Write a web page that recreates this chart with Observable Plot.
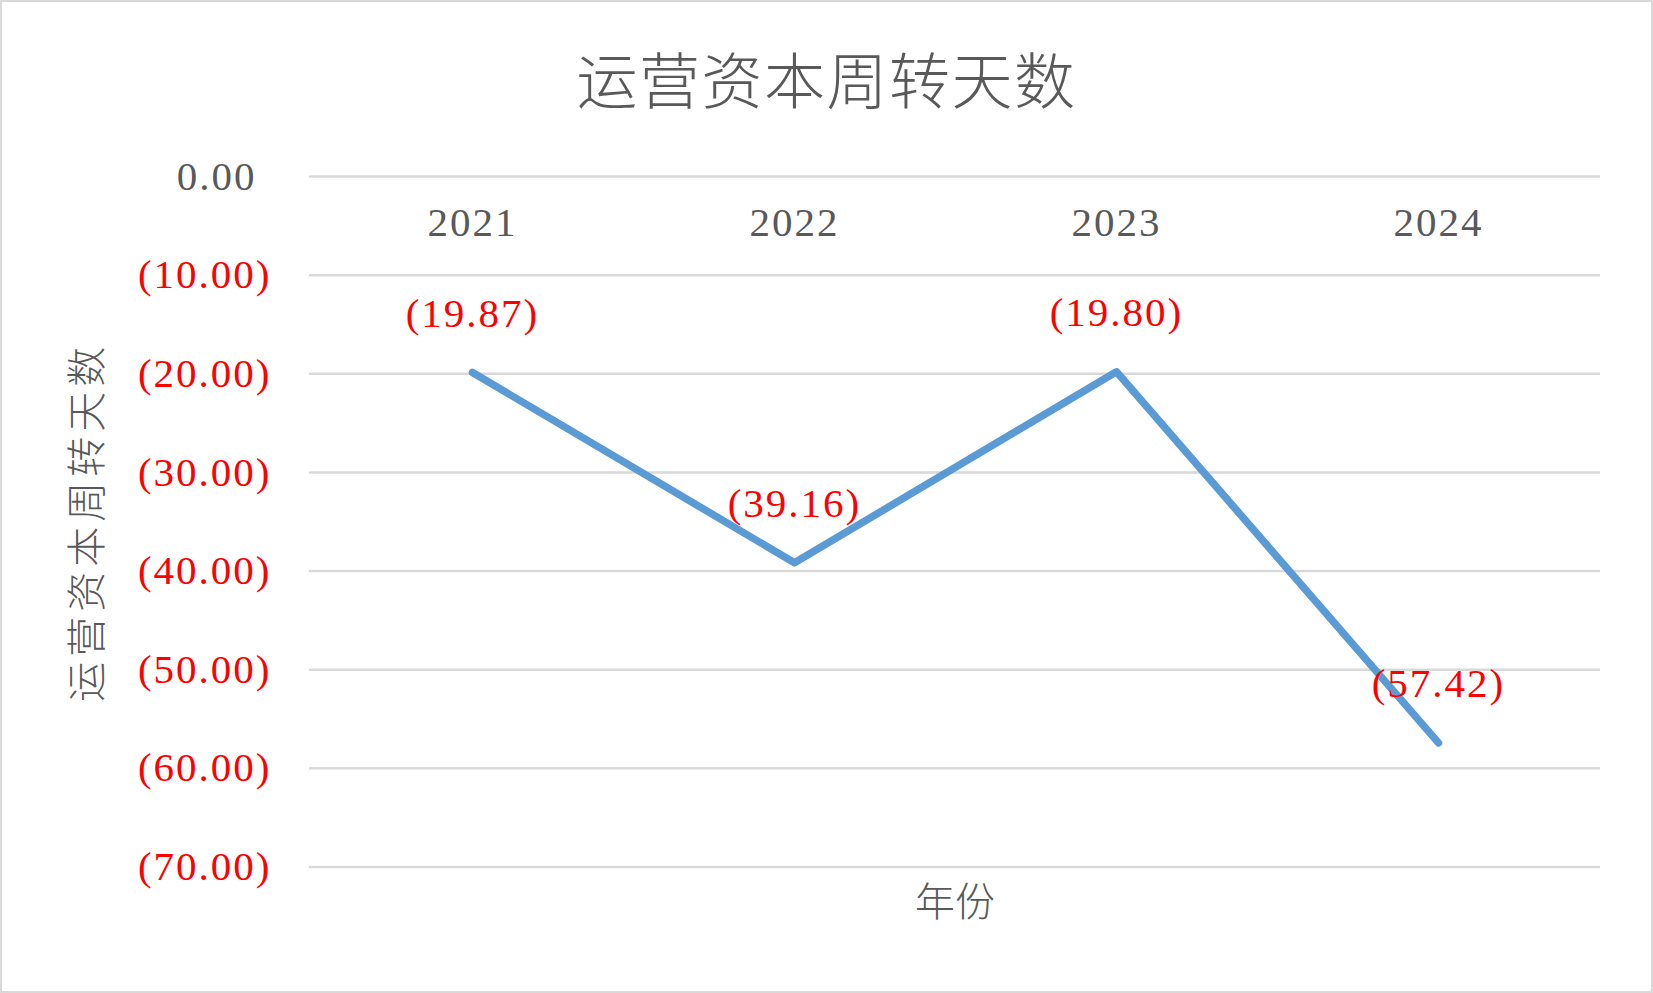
<!DOCTYPE html>
<html>
<head>
<meta charset="utf-8">
<script src="https://cdn.jsdelivr.net/npm/d3@7"></script>
<script src="https://cdn.jsdelivr.net/npm/@observablehq/plot@0.6"></script>
<style>
  html, body { margin: 0; padding: 0; background: #ffffff; }
  #wrap { position: relative; width: 1653px; height: 993px; background: #ffffff; overflow: hidden; }
  #frame { position: absolute; left: 0; top: 0; width: 1653px; height: 993px; box-sizing: border-box; border: 2px solid #d9d9d9; pointer-events: none; }
  #title { position: absolute; left: 0; top: 40px; width: 1653px; height: 76px; line-height: 76px; text-align: center;
           font-family: "Noto Sans CJK SC", sans-serif; font-weight: 300; font-size: 61px; color: #595959; letter-spacing: 1.5px; }
  #plot { position: absolute; left: 0; top: 140px; }
</style>
</head>
<body>
<div id="wrap">
  <div id="title">运营资本周转天数</div>
  <div id="plot"></div>
  <div id="frame"></div>
</div>
<script>
const years = ["2021", "2022", "2023", "2024"];
const values = [-19.87, -39.16, -19.80, -57.42];
const yTicks = [0, -10, -20, -30, -40, -50, -60, -70];
const xTitle = "年份";
const yTitle = "运营资本周转天数";

const fmt = v => v < 0 ? `(${Math.abs(v).toFixed(2)})` : v.toFixed(2);
const data = years.map((year, i) => ({ year, value: values[i] }));
const numFont = "Liberation Serif, serif";
const cjkFont = "Noto Sans CJK SC, sans-serif";

const chart = Plot.plot({
  width: 1653,
  height: 853,
  marginLeft: 309,
  marginRight: 53,
  marginTop: 36,
  marginBottom: 126.5,
  style: { background: "transparent", overflow: "visible" },
  x: { type: "point", domain: years, padding: 0.5, axis: null },
  y: { domain: [-70, 0], axis: null },
  marks: [
    Plot.ruleY(yTicks, { y: d => d, stroke: "#d9d9d9", strokeWidth: 2.5 }),
    Plot.text(yTicks.filter(d => d < 0), {
      y: d => d, text: d => fmt(d), frameAnchor: "left", textAnchor: "end", dx: -38,
      fill: "#ff0000", fontSize: 41, fontFamily: numFont
    }),
    Plot.text(yTicks.filter(d => d >= 0), {
      y: d => d, text: d => fmt(d), frameAnchor: "left", textAnchor: "end", dx: -53,
      fill: "#595959", fontSize: 41, fontFamily: numFont
    }),
    Plot.text(years, {
      x: d => d, text: d => d, frameAnchor: "top", dy: 46, lineAnchor: "middle",
      fill: "#595959", fontSize: 41, fontFamily: numFont
    }),
    Plot.line(data, {
      x: "year", y: "value", stroke: "#5B9BD5", strokeWidth: 7.5,
      strokeLinecap: "round", strokeLinejoin: "round"
    }),
    Plot.text(data, {
      x: "year", y: "value", text: d => fmt(d.value), dy: -59, lineAnchor: "middle",
      fill: "#ff0000", fontSize: 41, fontFamily: numFont
    }),
    Plot.text([xTitle], {
      text: d => d, frameAnchor: "bottom", dy: 36.5, lineAnchor: "middle", textAnchor: "middle",
      fill: "#595959", fontSize: 40, fontFamily: cjkFont, fontWeight: 300
    }),
    Plot.text([yTitle], {
      text: d => d, frameAnchor: "left", dx: -221, rotate: -90, lineAnchor: "middle", textAnchor: "middle",
      fill: "#595959", fontSize: 40, fontFamily: cjkFont, fontWeight: 300
    })
  ]
});

d3.select(chart).selectAll('g[font-family^="Liberation"]').attr("letter-spacing", "2px");
d3.select(chart).selectAll("text")
  .filter(function () { return this.textContent === yTitle; })
  .style("letter-spacing", "5px");

document.getElementById("plot").appendChild(chart);
</script>
</body>
</html>
